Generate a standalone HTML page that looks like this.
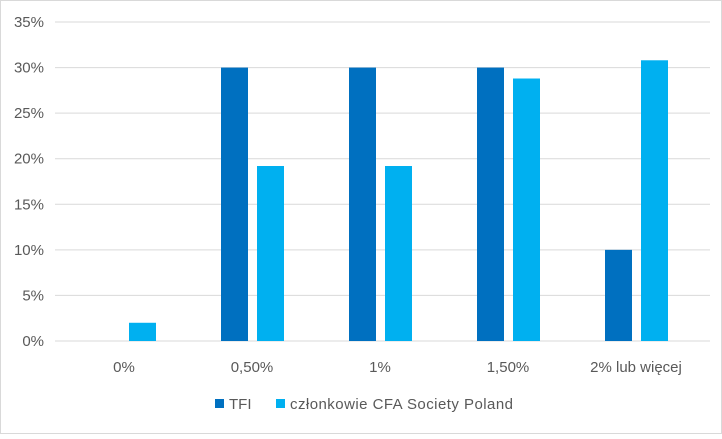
<!DOCTYPE html>
<html><head><meta charset="utf-8"><style>
body{margin:0;background:#fff}
svg text{font-family:"Liberation Sans",sans-serif;font-size:15px;fill:#595959}
</style></head><body>
<svg width="722" height="434" xmlns="http://www.w3.org/2000/svg">
<rect x="0.5" y="0.5" width="721" height="433" fill="#fff" stroke="#d9d9d9"/>
<g id="grid"></g><g id="bars"></g><g id="labels"></g>
<g>
<rect x="215" y="399" width="9" height="9" fill="#0070C0"/>
<text x="229" y="409">TFI</text>
<rect x="276" y="399" width="9" height="9" fill="#00B0F0"/>
<text x="290" y="409" textLength="223">członkowie CFA Society Poland</text>
</g>
</svg>
<script>
const categories=["0%","0,50%","1%","1,50%","2% lub więcej"];
const tfi=[0,30,30,30,10];
const cfa=[2,19.2,19.2,28.8,30.8];
const ticks=[0,5,10,15,20,25,30,35];
const ns="http://www.w3.org/2000/svg";
const x0=60,x1=700,yTop=22,yBot=341,maxV=35;
const y=v=>yBot-(v/maxV)*(yBot-yTop);
const bw=(x1-x0)/categories.length;
const cx=i=>x0+bw*(i+0.5);
function mk(t,a,p){const e=document.createElementNS(ns,t);for(const k in a)e.setAttribute(k,a[k]);p.appendChild(e);return e;}
const g=document.getElementById('grid'),b=document.getElementById('bars'),l=document.getElementById('labels');
ticks.forEach(t=>{
 const ln=mk('line',{x1:x0-5,x2:x1+10,y1:y(t),y2:y(t),stroke:'#d9d9d9'},g);
 
 
 const tx=mk('text',{x:44,y:y(t)+5,'text-anchor':'end'},l);tx.textContent=t+'%';
 
 
});
categories.forEach((c,i)=>{
 const r1=mk('rect',{x:cx(i)-31,y:y(tfi[i]),width:27,height:yBot-y(tfi[i]),fill:'#0070C0'},b);
 
 
 const r2=mk('rect',{x:cx(i)+5,y:y(cfa[i]),width:27,height:yBot-y(cfa[i]),fill:'#00B0F0'},b);
 
 
 const tx=mk('text',{x:cx(i),y:372,'text-anchor':'middle'},l);tx.textContent=c;
 
 
});
</script>
</body></html>
